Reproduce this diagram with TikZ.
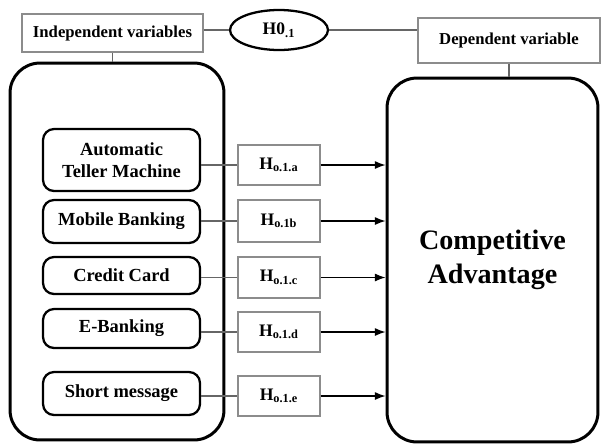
\documentclass[tikz,border=0pt]{standalone}
\usepackage{fontspec}
\setmainfont{Liberation Serif}
\usetikzlibrary{shapes.geometric,arrows.meta}

\begin{document}
\begin{tikzpicture}[
    x=0.02cm, y=-0.02cm,
    % Heading boxes (thin, grey)
    headbox/.style={draw=black!45, line width=0.6pt, align=center, font=\fontsize{9.5}{11}\selectfont\bfseries},
    % Hypothesis boxes
    hypbox/.style={draw=black!45, line width=0.6pt, minimum width=1.64cm, minimum height=0.8cm, font=\fontsize{10}{12}\selectfont\bfseries},
    % Large rounded frames
    bigbox/.style={draw, line width=1.7pt, rounded corners=0.6cm},
    % Independent variable items
    itembox/.style={draw, line width=1.3pt, rounded corners=0.22cm, minimum width=3.14cm, align=center, font=\fontsize{10.5}{12.5}\selectfont\bfseries},
    % Connectors
    link/.style={black!60, line width=0.6pt},
    effect/.style={line width=0.7pt, -{Latex[length=6pt,width=4.5pt]}},
]
\useasboundingbox (0,0) rectangle (601,444);

% === TOP ROW ===
\node[headbox, minimum width=3.62cm, minimum height=0.76cm] (indep) at (112.5, 33) {Independent variables};
\node[draw, ellipse, line width=1.3pt, minimum width=1.96cm, minimum height=0.8cm, font=\fontsize{10}{12}\selectfont\bfseries] (h01) at (279, 30) {H0\textsubscript{.1}};
\node[headbox, minimum width=3.64cm, minimum height=0.9cm] (dep) at (509, 40.5) {Dependent variable};

\draw[link] (indep.east |- h01) -- (h01.west);
\draw[link] (h01.east) -- (h01.east -| dep.west);

% === FRAMES ===
\node[bigbox, minimum width=4.28cm, minimum height=7.54cm] (indframe) at (117, 251.5) {};
\node[bigbox, minimum width=4.22cm, minimum height=7.28cm, font=\fontsize{16}{19}\selectfont\bfseries, align=center] (cadv) at (492.5, 260) {Competitive\\Advantage};

\draw[link] (indep.south) -- (indep.south |- indframe.north);
\draw[link] (dep.south) -- (dep.south |- cadv.north);

% === INDEPENDENT VARIABLES ===
\node[itembox, minimum height=1.24cm] (atm) at (121.5, 160) {Automatic\\Teller Machine};
\node[itembox, minimum height=0.86cm] (mob) at (121.5, 221.5) {Mobile Banking};
\node[itembox, minimum height=0.74cm] (card) at (121.5, 275.5) {Credit Card};
\node[itembox, minimum height=0.78cm] (ebank) at (121.5, 328.5) {E-Banking};
\node[itembox, minimum height=0.86cm] (sms) at (121.5, 393.5) {Short message};

% === HYPOTHESES ===
\node[hypbox] (ha) at (279, 165) {H\textsubscript{o.1.a}};
\node[hypbox, minimum height=0.84cm] (hb) at (279, 221) {H\textsubscript{o.1b}};
\node[hypbox, minimum height=0.82cm] (hc) at (279, 277.5) {H\textsubscript{o.1.c}};
\node[hypbox] (hd) at (279, 332) {H\textsubscript{o.1.d}};
\node[hypbox] (he) at (279, 396) {H\textsubscript{o.1.e}};

\foreach \src/\hyp in {atm/ha, mob/hb, card/hc, ebank/hd, sms/he} {
    \draw[link] (\hyp.west -| \src.east) -- (\hyp.west);
    \draw[effect] (\hyp.east) -- (\hyp.east -| cadv.west);
}

\end{tikzpicture}
\end{document}
